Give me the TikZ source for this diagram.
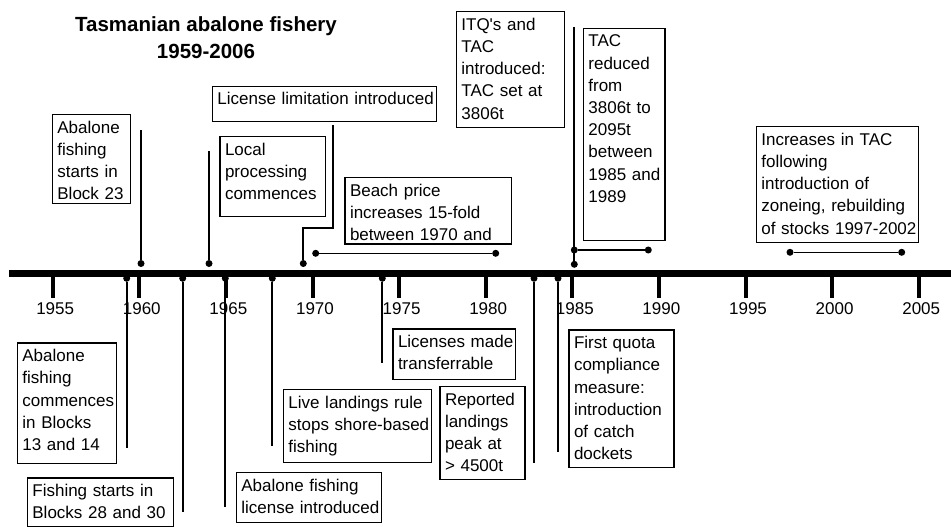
\documentclass[tikz,border=0pt]{standalone}
\usepackage{fontspec}
\setsansfont{Liberation Sans}
\usetikzlibrary{arrows}

\begin{document}
\begin{tikzpicture}[x = 1pt, y = -1pt, font=\sffamily]
	\tikzstyle{evbox} = [draw, line width = 1.4pt, anchor = north west, inner xsep = 5pt, inner ysep = 6pt, align = left, text height = 12.6pt, font = \sffamily\fontsize{17}{22.2}\selectfont, execute at begin node = {\hyphenpenalty=10000\exhyphenpenalty=10000}]
	\tikzstyle{yearlabel} = [anchor = base, inner sep = 0pt, font = \sffamily\fontsize{17}{20}\selectfont]
	\tikzstyle{axisline} = [line width = 7pt]
	\tikzstyle{tick} = [line width = 4pt]
	\tikzstyle{pin} = [line width = 1.9pt]
	\tikzstyle{span} = [line width = 1.5pt]
	\tikzstyle{pindot} = [circle, fill, inner sep = 0pt, minimum size = 7pt]
	\useasboundingbox (0, 0) rectangle (951, 527);
	% title
	\node[font = \sffamily\bfseries\fontsize{20.5}{26.5}\selectfont, align = center, anchor = north, inner sep = 0pt] (title) at (206, 16.7) {Tasmanian abalone fishery\\1959-2006};
	% time axis
	\coordinate (axisL) at (9, 273);
	\coordinate (axisR) at (951, 273);
	\draw[axisline] (axisL) -- (axisR);
	\draw[tick] (52.7, 273) -- (52.7, 298);
	\draw[tick] (139.3, 273) -- (139.3, 298);
	\draw[tick] (225.9, 273) -- (225.9, 298);
	\draw[tick] (312.5, 273) -- (312.5, 298);
	\draw[tick] (399.1, 273) -- (399.1, 298);
	\draw[tick] (485.7, 273) -- (485.7, 298);
	\draw[tick] (572.3, 273) -- (572.3, 298);
	\draw[tick] (658.9, 273) -- (658.9, 298);
	\draw[tick] (745.5, 273) -- (745.5, 298);
	\draw[tick] (832.1, 273) -- (832.1, 298);
	\draw[tick] (918.7, 273) -- (918.7, 298);
	\node[yearlabel] (y1955) at (55.2, 314.5) {1955};
	\node[yearlabel] (y1960) at (141.8, 314.5) {1960};
	\node[yearlabel] (y1965) at (228.4, 314.5) {1965};
	\node[yearlabel] (y1970) at (315.0, 314.5) {1970};
	\node[yearlabel] (y1975) at (401.6, 314.5) {1975};
	\node[yearlabel] (y1980) at (488.2, 314.5) {1980};
	\node[yearlabel] (y1985) at (574.8, 314.5) {1985};
	\node[yearlabel] (y1990) at (661.4, 314.5) {1990};
	\node[yearlabel] (y1995) at (748.0, 314.5) {1995};
	\node[yearlabel] (y2000) at (834.6, 314.5) {2000};
	\node[yearlabel] (y2005) at (921.2, 314.5) {2005};
	% events above the axis
	\node[pindot] (blk23dot) at (141, 263.5) {};
	\coordinate (blk23top) at (141, 130);
	\draw[pin] (blk23dot) -- (blk23top);
	\node[evbox, text width = 68.3pt, text depth = 64.1pt] (blk23) at (51.7, 114) {Abalone\\fishing\\starts in\\Block 23};
	\node[pindot] (localdot) at (209, 263.5) {};
	\coordinate (localtop) at (209, 150.7);
	\draw[pin] (localdot) -- (localtop);
	\node[evbox, text width = 95.7pt, text depth = 55.4pt] (local) at (219.3, 135.7) {Local\\processing\\commences};
	\node[pindot] (limitdot) at (303.3, 263.5) {};
	\coordinate (limittop) at (333.3, 125);
	\coordinate (limitbend) at (303.3, 228.3);
	\draw[pin] (limittop) |- (limitbend) -- (limitdot);
	\node[evbox, text width = 214pt, text depth = 10.4pt] (limit) at (211.7, 85.7) {License~limitation~introduced};
	\node[pindot] (beachL) at (315.7, 253.3) {};
	\node[pindot] (beachR) at (495.7, 253.3) {};
	\draw[span] (beachL) -- (beachR);
	\node[evbox, text width = 156.4pt, text depth = 42pt] (beach) at (344.3, 176.7) {Beach price\\increases 15-fold\\between 1970 and};
	\node[pindot] (itqdot) at (574.3, 264.3) {};
	\coordinate (itqtop) at (574.3, 26.7);
	\draw[pin] (itqdot) -- (itqtop);
	\node[evbox, text width = 98.3pt, text depth = 91.1pt] (itq) at (455.7, 11) {ITQ\textquotesingle s and\\TAC\\introduced:\\TAC set at\\3806t};
	\node[pindot] (tacL) at (574.3, 250) {};
	\node[pindot] (tacR) at (648.3, 250) {};
	\draw[span] (tacL) -- (tacR);
	\node[evbox, text width = 71.6pt, text depth = 187.7pt] (tacred) at (582.7, 27.7) {TAC\\reduced\\from\\3806t to\\2095t\\between\\1985~and\\1989};
	\node[pindot] (zoningL) at (790, 252.3) {};
	\node[pindot] (zoningR) at (901.7, 252.3) {};
	\draw[span] (zoningL) -- (zoningR);
	\node[evbox, text width = 152pt, text depth = 91.1pt] (zoning) at (755.7, 126) {Increases in TAC\\following\\introduction of\\zoneing, rebuilding\\of~stocks~1997-2002};
	% events below the axis
	\node[pindot] (blk13dot) at (126.7, 278.3) {};
	\coordinate (blk13end) at (126.7, 447.7);
	\draw[pin] (blk13dot) -- (blk13end);
	\node[evbox, text width = 89.3pt, text depth = 95.8pt] (blk13) at (16.7, 342.3) {Abalone\\fishing\\commences\\in Blocks\\13 and 14};
	\node[pindot] (blk28dot) at (182.7, 278.3) {};
	\coordinate (blk28end) at (182.7, 511.7);
	\draw[pin] (blk28dot) -- (blk28end);
	\node[evbox, text width = 136pt, text depth = 24.1pt] (blk28) at (26.7, 477.3) {Fishing starts in\\Blocks 28 and 30};
	\node[pindot] (licencedot) at (225.3, 278.3) {};
	\coordinate (licenceend) at (225.3, 507.3);
	\draw[pin] (licencedot) -- (licenceend);
	\node[evbox, text width = 135pt, text depth = 25.4pt] (licence) at (235.7, 471.7) {Abalone fishing\\license~introduced};
	\node[pindot] (livedot) at (272.3, 278.3) {};
	\coordinate (liveend) at (272.3, 446);
	\draw[pin] (livedot) -- (liveend);
	\node[evbox, text width = 138.3pt, text depth = 48.1pt] (live) at (282.7, 389) {Live landings rule\\stops~shore-based\\fishing};
	\node[pindot] (transferdot) at (382.3, 278.3) {};
	\coordinate (transferend) at (382.3, 363.3);
	\draw[pin] (transferdot) -- (transferend);
	\node[evbox, text width = 112.7pt, text depth = 26.1pt] (transfer) at (392.3, 328.3) {Licenses~made\\transferrable};
	\node[pindot] (peakdot) at (534, 278.3) {};
	\coordinate (peakend) at (534, 463.3);
	\draw[pin] (peakdot) -- (peakend);
	\node[evbox, text width = 75pt, text depth = 68.7pt] (peak) at (439.3, 385.7) {Reported\\landings\\peak at\\> 4500t};
	\node[pindot] (quotadot) at (558, 278.3) {};
	\coordinate (quotaend) at (558, 451.7);
	\draw[pin] (quotadot) -- (quotaend);
	\node[evbox, text width = 95pt, text depth = 112.8pt] (quota) at (568.3, 329.3) {First quota\\compliance\\measure:\\introduction\\of catch\\dockets};
\end{tikzpicture}
\end{document}
